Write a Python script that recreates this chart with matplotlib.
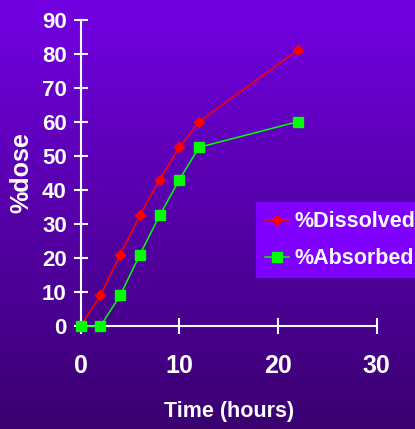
import numpy as np
import matplotlib
matplotlib.use('Agg')
import matplotlib.pyplot as plt

# Datos
tiempo = [0, 2, 4, 6, 8, 10, 12, 22]
disuelto = [0, 9, 21, 32.5, 43, 52.5, 60, 81]
absorbido = [0, 0, 9, 21, 32.5, 43, 52.5, 60]
xticks = [0, 10, 20, 30]
yticks = [0, 10, 20, 30, 40, 50, 60, 70, 80, 90]

plt.rcParams['font.family'] = ['Liberation Sans', 'DejaVu Sans']
plt.rcParams['font.weight'] = 'bold'

fig = plt.figure(figsize=(4.15, 4.29), dpi=100)

# Fondo degradado violeta
fondo = fig.add_axes([0, 0, 1, 1], zorder=-10)
grad = np.linspace(0, 1, 256).reshape(-1, 1)
arriba = np.array([114, 0, 226]) / 255
abajo = np.array([58, 0, 112]) / 255
img = arriba[None, None, :] * (1 - grad[:, :, None]) + abajo[None, None, :] * grad[:, :, None]
fondo.imshow(img, aspect='auto', extent=[0, 1, 0, 1])
fondo.axis('off')

ax = fig.add_axes([0.1945, 0.240, 0.7135, 0.7145])
ax.patch.set_alpha(0)
ax.plot(tiempo, disuelto, color='#ff0000', lw=1.1, marker='D', ms=5,
        label='%Dissolved', clip_on=False, zorder=3)
ax.plot(tiempo, absorbido, color='#00ff00', lw=1.1, marker='s', ms=7,
        label='%Absorbed', clip_on=False, zorder=3)

ax.set_xlim(0, 30)
ax.set_ylim(0, 90)
ax.set_xticks(xticks)
ax.set_yticks(yticks)
for s in ['top', 'right']:
    ax.spines[s].set_visible(False)
for s in ['left', 'bottom']:
    ax.spines[s].set_color('white')
    ax.spines[s].set_linewidth(1.5)
ax.tick_params(axis='y', direction='inout', length=10, width=1.5, color='white',
               labelcolor='white', labelsize=16, pad=5)
ax.tick_params(axis='x', direction='inout', length=12, width=1.5, color='white',
               labelcolor='white', labelsize=18, pad=14)

fig.text(229 / 415, 1 - 411 / 429, 'Time (hours)', color='white', fontsize=15.5,
         ha='center', va='center')
fig.text(21 / 415, 1 - 173 / 429, '%dose', color='white', fontsize=18,
         ha='center', va='center', rotation=90)

leg = fig.legend(loc='upper left', bbox_to_anchor=(256 / 415, 1 - 202 / 429),
                 frameon=True, fancybox=False, facecolor='#8000ff', edgecolor='none',
                 framealpha=1, fontsize=15.5,
                 handlelength=1.1, handletextpad=0.25,
                 borderpad=0.42, labelspacing=0.75, borderaxespad=0)
for t in leg.get_texts():
    t.set_color('white')

fig.savefig('out.png', dpi=100)
